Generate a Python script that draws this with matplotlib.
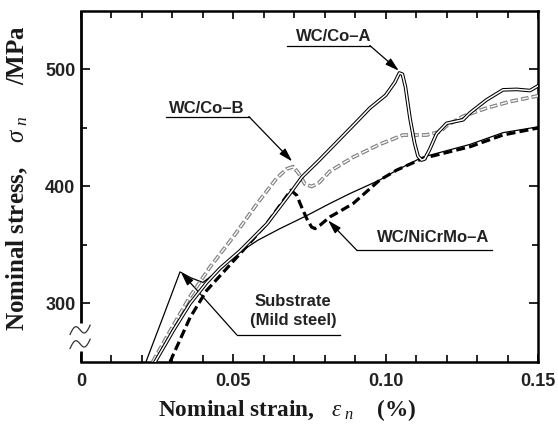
import matplotlib
matplotlib.use('Agg')
import matplotlib.pyplot as plt
import numpy as np

plt.rcParams['lines.scale_dashes'] = False
plt.rcParams['mathtext.fontset'] = 'custom'
plt.rcParams['mathtext.rm'] = 'Liberation Serif'
plt.rcParams['mathtext.it'] = 'Liberation Serif:italic'
plt.rcParams['mathtext.bf'] = 'Liberation Serif:bold'

# ---------------- data (strain %, stress MPa) ----------------
sub_strain = [0.0213, 0.0270, 0.0325, 0.0360, 0.0400, 0.0456, 0.0522, 0.0580, 0.0653,
              0.0740, 0.0817, 0.0883, 0.0980, 0.1037, 0.1120, 0.1277, 0.1385, 0.1500]
sub_stress = [250, 289, 327, 322, 318, 329, 344, 354, 364,
              375, 385.5, 394, 405.5, 414, 425, 436, 446, 451]

coA_strain = [0.0243, 0.0303, 0.0358, 0.0413, 0.0456, 0.0522, 0.0610, 0.0686, 0.0725,
              0.0780, 0.0840, 0.0900, 0.0948, 0.1000, 0.1030, 0.1045, 0.1055, 0.1065,
              0.1080, 0.1095, 0.1106, 0.1118, 0.1128, 0.1145, 0.1167, 0.1200, 0.1254,
              0.1277, 0.1331, 0.1385, 0.1430, 0.1474, 0.1500]
coA_stress = [250, 277, 300, 318, 330, 345, 368, 394, 408,
              422, 438, 454, 467, 478, 489, 497, 496, 485,
              458, 437, 426, 422.6, 423.5, 432, 445, 454, 457,
              463, 474, 482.6, 483, 482, 486]

coB_strain = [0.0235, 0.0300, 0.0358, 0.0423, 0.0500, 0.0577, 0.0642, 0.0675, 0.0697,
              0.0715, 0.0735, 0.0757, 0.0780, 0.0817, 0.0893, 0.0980, 0.1057, 0.1134,
              0.1180, 0.1200, 0.1254, 0.1331, 0.1408, 0.1500]
coB_stress = [250, 280, 306, 331, 357, 385, 407, 415, 417,
              411, 402, 400, 403, 413, 425, 436, 444, 444,
              447, 452, 460, 467, 472.6, 477.5]

ni_strain = [0.0292, 0.0358, 0.0412, 0.0522, 0.0609, 0.0670, 0.0689, 0.0708, 0.0724,
             0.0741, 0.0757, 0.0768, 0.0784, 0.0817, 0.0855, 0.0893, 0.0980, 0.1036,
             0.1122, 0.1277, 0.1385, 0.1500]
ni_stress = [250, 288, 311, 342.5, 368, 390, 396.8, 392.5, 382.5,
             372.5, 365.3, 364, 366.8, 374, 379.6, 385.4, 405.4, 414,
             424, 434, 444, 450]

x_ticks = [0, 0.05, 0.10, 0.15]
x_ticklabels = ['0', '0.05', '0.10', '0.15']
y_ticks = [300, 400, 500]
y_ticklabels = ['300', '400', '500']

# ---------------- figure ----------------
fig = plt.figure(figsize=(5.58, 4.26), dpi=100)
ax = fig.add_axes([81/558, 1 - 362/426, 457/558, 351/426])
ax.set_xlim(0, 0.15)
ax.set_ylim(250, 550)

# substrate
ax.plot(sub_strain, sub_stress, color='black', lw=0.9, zorder=3)
# WC/NiCrMo-A thick dashed
ax.plot(ni_strain, ni_stress, color='black', lw=2.3, linestyle=(0, (6.5, 3.0)), zorder=4)
# WC/Co-B gray double dashed
ax.plot(coB_strain, coB_stress, color='#808080', lw=2.7, linestyle=(0, (5.5, 2.2)), zorder=5)
ax.plot(coB_strain, coB_stress, color='white', lw=1.0, linestyle=(7.2, (4.5, 3.2)), zorder=6)
# WC/Co-A double solid
ax.plot(coA_strain, coA_stress, color='black', lw=2.6, zorder=7, solid_joinstyle='round')
ax.plot(coA_strain, coA_stress, color='white', lw=1.1, zorder=8, solid_joinstyle='round')

# ticks
ax.set_xticks(x_ticks)
ax.set_xticklabels(x_ticklabels)
ax.set_xticks(np.arange(0, 0.1501, 0.01), minor=True)
ax.set_yticks(y_ticks)
ax.set_yticklabels(y_ticklabels)
ax.set_yticks([350, 450], minor=True)
ax.tick_params(which='both', direction='in', top=True, right=True, width=1.2, color='black')
ax.tick_params(axis='x', which='major', length=5.5, pad=8)
ax.tick_params(axis='x', which='minor', length=5)
ax.tick_params(axis='y', which='major', length=6.5, pad=4)
ax.tick_params(axis='y', which='minor', length=4.5)
for lab in ax.get_xticklabels() + ax.get_yticklabels():
    lab.set_fontfamily('Liberation Sans')
    lab.set_fontweight('bold')
    lab.set_fontsize(13)
    lab.set_color('#222222')

for s in ['top', 'right', 'bottom']:
    ax.spines[s].set_linewidth(1.8)
ax.spines['left'].set_visible(False)

# left spine with break
ytr = ax.get_yaxis_transform()
ax.plot([0, 0], [250, 259.4], color='black', lw=2.0, transform=ytr, clip_on=False, zorder=10,
        solid_capstyle='butt')
ax.plot([0, 0], [283.4, 550], color='black', lw=2.0, transform=ytr, clip_on=False, zorder=10,
        solid_capstyle='butt')
t = np.linspace(0, 1, 60)
for yc in [277.5, 265.5]:
    wx = -0.024 + 0.044 * t
    wy = yc + 8.0 * (t - 0.5) + 4.5 * np.sin(2 * np.pi * t)
    ax.plot(wx, wy, color='#333333', lw=0.9, transform=ytr, clip_on=False, zorder=10)

# annotations
afont = dict(family='Liberation Sans', weight='bold', size=12, color='#222222')
aprops = dict(arrowstyle='-|>,head_length=0.75,head_width=0.22', color='black', lw=0.9,
              mutation_scale=11, shrinkA=0, shrinkB=0)

# WC/Co-A
ax.text(0.0830, 524.5, 'WC/Co\u2013A', ha='center', va='baseline', **afont)
ax.plot([0.0676, 0.0948], [520.5, 520.5], color='black', lw=0.9)
ax.annotate('', xy=(0.1043, 499), xytext=(0.0948, 520.5), arrowprops=aprops)

# WC/Co-B
ax.text(0.0412, 462.8, 'WC/Co\u2013B', ha='center', va='baseline', **afont)
ax.plot([0.0279, 0.0551], [459.8, 459.8], color='black', lw=0.9)
ax.annotate('', xy=(0.0693, 421.5), xytext=(0.0551, 459.8), arrowprops=aprops)

# WC/NiCrMo-A
ax.text(0.1155, 352.6, 'WC/NiCrMo\u2013A', ha='center', va='baseline', **afont)
ax.plot([0.0906, 0.1349], [345.3, 345.3], color='black', lw=0.9)
ax.annotate('', xy=(0.0811, 371), xytext=(0.0906, 345.3), arrowprops=aprops)

# Substrate
ax.text(0.0696, 298, 'Substrate', ha='center', va='baseline', **afont)
ax.text(0.0697, 282, '(Mild steel)', ha='center', va='baseline', **afont)
ax.plot([0.0511, 0.0850], [273.3, 273.3], color='black', lw=0.9)
ax.annotate('', xy=(0.0328, 326.7), xytext=(0.0511, 273.3), arrowprops=aprops)

# axis labels
fig.text(287/558, 1 - 416/426, r'Nominal strain,   $\varepsilon_{\ n}$    (%)',
         ha='center', va='baseline', family='Liberation Serif', weight='bold',
         size=16.8, color='#1a1a1a')
fig.text(17/558, 1 - 178/426, r'Nominal stress,    $\sigma_{\ n}$     /MPa',
         ha='center', va='center', rotation=90, family='Liberation Serif', weight='bold',
         size=18, color='#1a1a1a')

fig.savefig('out.png', dpi=100)
